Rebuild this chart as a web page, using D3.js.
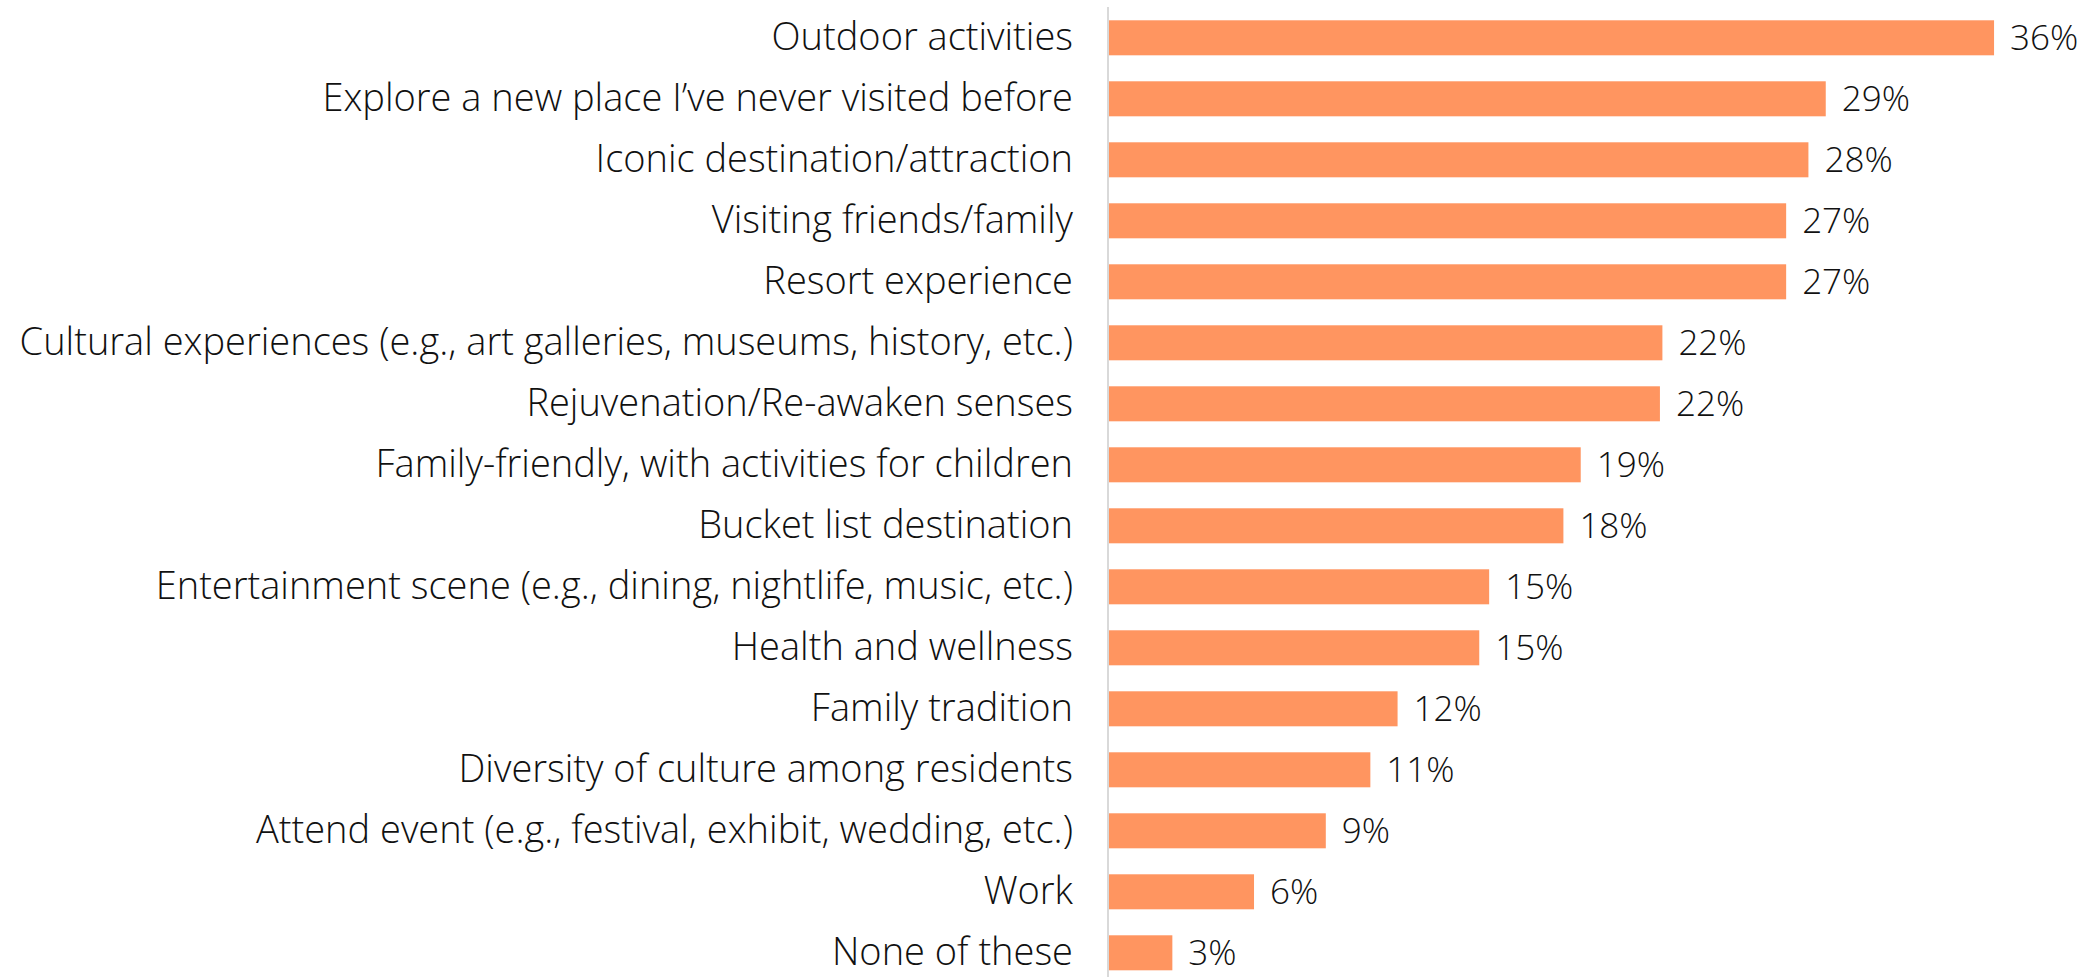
<!DOCTYPE html>
<html>
<head>
<meta charset="utf-8">
<script src="https://cdn.jsdelivr.net/npm/d3@7"></script>
<style>
  html, body { margin: 0; padding: 0; background: #fff; }
  svg { display: block; }
  text { font-family: "Open Sans", "Lato", sans-serif; font-weight: 300; fill: #111; }
</style>
</head>
<body>
<svg id="chart" width="2092" height="977"></svg>
<script>
const categories = [
  "Outdoor activities",
  "Explore a new place I\u2019ve never visited before",
  "Iconic destination/attraction",
  "Visiting friends/family",
  "Resort experience",
  "Cultural experiences (e.g., art galleries, museums, history, etc.)",
  "Rejuvenation/Re-awaken senses",
  "Family-friendly, with activities for children",
  "Bucket list destination",
  "Entertainment scene (e.g., dining, nightlife, music, etc.)",
  "Health and wellness",
  "Family tradition",
  "Diversity of culture among residents",
  "Attend event (e.g., festival, exhibit, wedding, etc.)",
  "Work",
  "None of these"
];
const values = [35.8, 29.0, 28.3, 27.4, 27.4, 22.4, 22.3, 19.1, 18.4, 15.4, 15.0, 11.7, 10.6, 8.8, 5.9, 2.6];

const svg = d3.select("#chart");
const W = 2092, H = 977;
const x0 = 1108;

const x = d3.scaleLinear().domain([0, 36]).range([x0, x0 + 36 * 24.75]);
const y = d3.scaleBand().domain(categories).range([7.3, 983.3])
  .paddingInner(0.426).paddingOuter(0.213);

const labelSize = 38;
const valueSize = 35;
const fontFamily = '"Open Sans", "Lato", sans-serif';

// bars
svg.append("g").selectAll("rect").data(values).join("rect")
  .attr("x", x0 + 1)
  .attr("y", (d, i) => y(categories[i]))
  .attr("width", d => x(d) - x0 - 1)
  .attr("height", y.bandwidth())
  .attr("fill", "#ff9560");

// category axis
const axis = d3.axisLeft(y).tickSize(0).tickPadding(35);
const g = svg.append("g").attr("transform", `translate(${x0},0)`).call(axis);
g.select(".domain").remove();
g.selectAll("text")
  .attr("font-size", labelSize)
  .style("font-family", fontFamily)
  .style("font-weight", 300)
  .attr("fill", "#111");

// axis line
svg.append("line")
  .attr("x1", x0).attr("x2", x0)
  .attr("y1", 7).attr("y2", H)
  .attr("stroke", "#d9d9d9").attr("stroke-width", 2);

// value labels
svg.append("g").selectAll("text").data(values).join("text")
  .attr("x", d => x(d) + 16)
  .attr("y", (d, i) => y(categories[i]) + y.bandwidth() / 2)
  .attr("dy", "0.35em")
  .attr("font-size", valueSize)
  .text(d => Math.round(d) + "%");
</script>
</body>
</html>
